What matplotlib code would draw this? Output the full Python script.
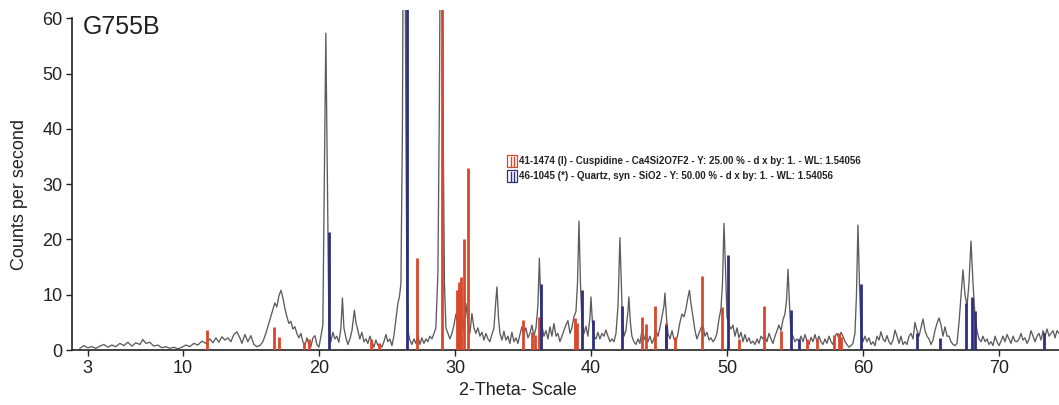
import matplotlib
matplotlib.use("Agg")
import matplotlib.pyplot as plt
from matplotlib.patches import Rectangle
from matplotlib.lines import Line2D

plt.rcParams['font.family'] = ['Liberation Sans', 'DejaVu Sans']

# Measured diffraction pattern (2-theta in degrees, counts per second), split by range
trace_a = [(2.43,0.3),(2.72,0.8),(3.01,0.4),(3.31,0.6),(3.60,0.3),(3.90,0.7),(4.19,1.0),(4.49,0.5),
           (4.78,0.9),(5.07,0.6),(5.37,1.2),(5.66,0.8),(5.96,1.4),(6.25,0.7),(6.54,1.3),(6.84,1.0),
           (7.06,1.9),(7.28,1.2),(7.57,1.4),(7.87,0.7),(8.16,0.9),(8.46,0.4),(8.75,0.6),(9.04,0.3),
           (9.34,0.5),(9.63,0.2),(9.93,0.5),(10.22,0.9),(10.51,0.6),(10.81,1.2),(11.10,0.9),(11.40,1.6),
           (11.69,1.2),(11.99,2.0),(12.21,1.3),(12.43,2.2),(12.65,1.4),(12.87,2.4),(13.09,1.8),(13.31,2.2),
           (13.53,1.5),(13.75,2.8),(13.97,3.3),(14.19,2.2),(14.34,1.2),(14.56,2.8),(14.78,1.5),(15.00,2.6),
           (15.22,1.0),(15.44,0.6),(15.66,0.8),(15.88,1.5)]
trace_b = [(16.10,3.0),(16.40,5.5),(16.62,7.3),(16.76,8.5),(16.91,7.8),(17.06,9.8),(17.21,10.8),(17.35,9.5),
           (17.50,7.5),(17.65,6.0),(17.79,4.8),(17.94,5.2),(18.09,3.8),(18.24,4.2),(18.38,3.0),(18.53,2.2),
           (18.68,3.0),(18.82,1.5),(18.97,0.8),(19.12,2.2),(19.26,1.0),(19.41,0.6),(19.56,2.2),(19.71,2.6),
           (19.85,1.0),(20.00,0.5),(20.15,2.5),(20.29,4.5),(20.40,30.0),(20.51,57.3),(20.63,30.0),(20.74,4.0),
           (20.88,1.5),(21.03,3.2),(21.18,2.0),(21.32,2.5),(21.47,1.4),(21.62,4.0),(21.73,9.4),(21.84,4.0),
           (21.99,2.2),(22.13,1.0),(22.28,2.0),(22.43,3.5),(22.61,7.2),(22.72,5.0),(22.87,3.5),(23.01,2.0),
           (23.16,3.2),(23.31,1.5),(23.46,2.0),(23.60,1.2),(23.75,2.5),(23.90,1.5),(24.04,0.5),(24.19,1.8),
           (24.34,0.8),(24.49,1.0),(24.63,0.5),(24.78,1.5),(24.93,2.8),(25.07,1.5),(25.22,2.0),(25.37,0.8),
           (25.51,2.5),(25.66,5.5),(25.81,8.5),(25.92,9.6),(26.03,12.0),(26.14,40.0),(26.21,80.0),(26.32,80.0),
           (26.40,40.0),(26.47,12.0),(26.58,3.0)]
trace_c = [(26.69,1.8),(26.84,1.0),(26.99,2.0),(27.13,1.2),(27.28,2.5),(27.43,1.0),(27.57,2.2),(27.72,1.2),
           (27.87,2.0),(28.01,1.5),(28.16,2.5),(28.31,2.0),(28.46,3.0),(28.60,4.0),(28.75,14.0),(28.86,45.0),
           (28.93,80.0),(29.04,80.0),(29.12,45.0),(29.23,12.0),(29.34,4.0),(29.49,3.0),(29.63,2.0),(29.78,3.0),
           (29.93,4.5),(30.07,6.5),(30.22,4.5),(30.37,5.5),(30.51,6.5),(30.66,3.5),(30.81,8.4),(30.96,5.0),
           (31.10,3.0),(31.25,6.6),(31.40,4.0),(31.54,3.0),(31.69,4.0),(31.84,2.5),(31.99,3.2),(32.13,1.8),
           (32.28,3.0),(32.43,2.0),(32.57,1.5),(32.72,2.8),(32.87,4.0),(33.01,9.0),(33.09,11.4),(33.20,6.0),
           (33.31,3.0),(33.46,1.8),(33.60,3.4),(33.75,1.8),(33.90,2.5),(34.04,1.2),(34.19,3.2),(34.34,1.5),
           (34.49,2.2),(34.63,1.2),(34.78,2.8),(34.93,4.2),(35.07,3.0),(35.22,4.0),(35.37,2.2),(35.51,3.0),
           (35.66,4.5),(35.81,2.5),(35.96,4.0),(36.10,8.0),(36.21,16.6),(36.32,8.0),(36.43,4.0)]
trace_d = [(36.54,2.5),(36.69,3.5),(36.84,2.0),(36.99,4.2),(37.13,2.5),(37.28,4.8),(37.43,2.5),(37.57,3.0),
           (37.72,1.5),(37.87,2.5),(38.01,3.5),(38.16,4.5),(38.31,5.3),(38.46,3.0),(38.60,4.0),(38.75,6.0),
           (38.90,7.0),(39.01,12.0),(39.12,23.3),(39.23,12.0),(39.34,5.0),(39.49,3.0),(39.63,4.3),(39.78,2.5),
           (39.93,6.0),(40.00,9.6),(40.11,5.0),(40.22,2.5),(40.37,2.0),(40.51,3.2),(40.66,2.0),(40.81,3.0),
           (40.96,2.5),(41.10,3.6),(41.25,2.5),(41.40,1.5),(41.54,2.0),(41.69,1.5),(41.84,3.0),(41.99,8.0),
           (42.06,14.0),(42.13,20.3),(42.21,14.0),(42.32,5.0),(42.43,2.5),(42.57,3.5),(42.72,7.0),(42.79,9.6),
           (42.90,5.0),(43.01,2.5),(43.16,1.5),(43.31,1.0),(43.46,2.0),(43.60,1.2),(43.75,3.5),(43.90,1.8),
           (44.04,3.0),(44.19,1.5),(44.34,2.5),(44.49,1.2),(44.63,2.0),(44.78,3.5),(44.93,2.5),(45.07,4.0),
           (45.22,6.0),(45.37,8.0),(45.44,10.3),(45.55,6.0),(45.66,3.0),(45.81,2.0),(45.96,3.5),(46.10,2.0),
           (46.25,1.5),(46.40,3.0),(46.54,5.0),(46.69,6.5),(46.84,6.0),(46.99,7.5),(47.13,9.5),(47.24,10.8),
           (47.35,8.5),(47.50,6.0),(47.65,3.5),(47.79,2.0),(47.94,3.0),(48.09,4.0),(48.24,4.5),(48.38,2.5),
           (48.53,3.2),(48.68,1.8),(48.82,2.2),(48.97,1.5),(49.12,2.0),(49.26,3.0),(49.41,5.5),(49.56,7.5),
           (49.67,12.0),(49.78,22.9),(49.89,15.0),(50.00,6.0)]
trace_e = [(50.15,4.5),(50.29,3.8),(50.44,4.5),(50.59,2.5),(50.74,4.0),(50.88,2.2),(51.03,3.2),(51.18,1.5),
           (51.32,2.8),(51.47,1.5),(51.62,2.2),(51.76,1.2),(51.91,1.6),(52.06,1.0),(52.21,2.0),(52.35,1.2),
           (52.50,2.5),(52.65,2.0),(52.79,2.5),(52.94,1.5),(53.09,3.0),(53.24,2.0),(53.38,1.2),(53.53,2.5),
           (53.68,3.5),(53.82,4.5),(53.97,3.5),(54.12,5.5),(54.26,6.5),(54.38,9.0),(54.49,14.6),(54.60,8.0),
           (54.71,3.0),(54.85,2.5),(55.00,1.5),(55.15,2.0),(55.29,1.5),(55.44,2.5),(55.59,1.5),(55.74,2.8),
           (55.88,1.6),(56.03,1.0),(56.18,2.3),(56.32,1.5),(56.47,2.8),(56.62,1.5),(56.76,2.5),(56.91,1.5),
           (57.06,1.0),(57.21,2.0),(57.35,1.2),(57.50,2.5),(57.65,1.5),(57.79,1.0),(57.94,2.5),(58.09,3.0),
           (58.24,2.0),(58.38,3.2),(58.53,2.5),(58.68,1.5),(58.82,1.0),(58.97,0.5),(59.12,0.8),(59.26,1.2),
           (59.41,3.0),(59.52,10.0),(59.63,22.6),(59.74,12.0),(59.85,4.0),(60.00,1.5),(60.15,2.5),(60.29,1.5),
           (60.44,2.2),(60.59,1.0),(60.74,1.5),(60.88,0.8),(61.03,2.5),(61.18,1.8),(61.32,3.3),(61.47,2.0),
           (61.62,1.5),(61.76,2.6),(61.91,1.5)]
trace_f = [(62.06,1.0),(62.21,1.8),(62.35,3.6),(62.50,2.5),(62.65,1.2),(62.79,2.5),(62.94,1.0),(63.09,1.5),
           (63.24,1.0),(63.38,2.5),(63.53,3.0),(63.68,2.0),(63.82,5.0),(63.97,3.5),(64.12,2.5),(64.26,4.0),
           (64.41,5.6),(64.56,3.5),(64.71,2.5),(64.85,2.0),(65.00,1.0),(65.15,1.8),(65.29,3.5),(65.44,4.8),
           (65.59,5.8),(65.74,4.5),(65.88,2.5),(66.03,4.2),(66.18,2.5),(66.32,2.5),(66.47,1.5),(66.62,1.0),
           (66.76,0.8),(66.91,1.2),(67.06,5.0),(67.21,10.0),(67.35,14.5),(67.50,10.0),(67.65,8.0),(67.79,12.0),
           (67.94,19.7),(68.09,12.0),(68.24,6.0),(68.38,3.5),(68.53,2.0),(68.68,1.5),(68.82,2.5),(68.97,1.5),
           (69.12,2.0),(69.26,1.0),(69.41,1.5),(69.56,0.8),(69.71,2.5),(69.85,1.5),(70.00,0.8),(70.15,1.6),
           (70.29,2.5),(70.44,1.5),(70.59,2.8),(70.74,2.0),(70.88,1.2),(71.03,2.5),(71.18,1.6),(71.32,1.5),
           (71.47,2.0),(71.62,3.0),(71.76,1.8),(71.91,2.2),(72.06,1.2),(72.21,2.0),(72.35,3.5),(72.50,2.5),
           (72.65,1.5),(72.79,2.5),(72.94,3.0),(73.09,1.8),(73.24,3.5),(73.38,2.5),(73.53,3.8),(73.68,2.5),
           (73.82,3.0),(73.97,3.5),(74.12,2.2),(74.26,3.5),(74.41,3.0)]

# Reference stick patterns (position, scaled intensity)
cuspidine_pos = [11.76, 16.67, 17.04, 18.90, 19.25, 23.80, 24.40, 27.20, 29.04, 30.15, 30.29, 30.44,
                 30.66, 30.96, 35.00, 35.70, 35.90, 36.20, 38.80, 39.00, 43.75, 44.04, 44.70, 45.50,
                 46.20, 48.16, 49.63, 50.90, 52.72, 53.97, 55.90, 56.60, 57.90, 58.20, 58.40]
cuspidine_int = [3.6, 4.1, 2.3, 1.4, 2.0, 2.0, 1.2, 16.6, 100.0, 10.8, 12.3, 13.2,
                 20.0, 33.0, 5.4, 3.3, 2.7, 6.0, 5.8, 4.9, 6.0, 4.7, 8.0, 4.9,
                 2.4, 13.4, 7.8, 2.0, 8.0, 3.5, 2.0, 2.0, 2.8, 3.0, 2.3]
quartz_pos = [20.74, 26.47, 36.32, 39.34, 40.15, 42.28, 45.51, 50.07, 54.71, 55.29, 59.85,
              63.97, 65.66, 67.55, 67.98, 68.20, 73.34]
quartz_int = [21.3, 100.0, 12.0, 10.8, 5.4, 8.0, 4.5, 17.2, 7.2, 2.0, 12.0,
              3.1, 2.2, 8.5, 9.5, 7.0, 3.0]

legend_labels = ["41-1474 (I) - Cuspidine - Ca4Si2O7F2 - Y: 25.00 % - d x by: 1. - WL: 1.54056",
                 "46-1045 (*) - Quartz, syn - SiO2 - Y: 50.00 % - d x by: 1. - WL: 1.54056"]
x_ticks = [3, 10, 20, 30, 40, 50, 60, 70]
y_ticks = [0, 10, 20, 30, 40, 50, 60]

trace = trace_a + trace_b + trace_c + trace_d + trace_e + trace_f
tt = [p[0] for p in trace]
cps = [p[1] for p in trace]

red = '#d9472c'
blue = '#2e2f7c'
grey = '#5c5c5c'
ink = '#222222'

fig = plt.figure(figsize=(10.59, 4.05), dpi=100)
ax = fig.add_axes([0.068, 0.1358, 0.932, 0.8395])

ax.plot(tt, cps, color=grey, lw=0.95, zorder=2)
ax.vlines(cuspidine_pos, 0, cuspidine_int, color=red, lw=2.0, zorder=3)
ax.vlines(quartz_pos, 0, quartz_int, color=blue, lw=2.0, zorder=4)

ax.set_xlim(1.85, 74.41)
ax.set_ylim(0, 61.5)
ax.set_xticks(x_ticks)
ax.set_yticks(y_ticks)
ax.tick_params(axis='both', direction='out', length=4, width=1.0, color=ink,
               labelsize=13, labelcolor=ink, pad=3)
for side in ('top', 'right'):
    ax.spines[side].set_visible(False)
for side in ('left', 'bottom'):
    ax.spines[side].set_color(ink)
    ax.spines[side].set_linewidth(1.2)
ax.spines['left'].set_bounds(0, 60)

ax.text(-0.0527, 0.456, 'Counts per second', transform=ax.transAxes, rotation=90,
        ha='center', va='center', fontsize=13, color=ink)
ax.text(0.452, -0.118, '2-Theta- Scale', transform=ax.transAxes,
        ha='center', va='center', fontsize=13, color=ink)
ax.text(0.011, 0.95, 'G755B', transform=ax.transAxes, ha='left', va='center',
        fontsize=18, color=ink)

# Phase key: small outlined boxes holding a stick glyph, followed by the card text
for (ybox, col, label) in [(0.538, red, legend_labels[0]), (0.494, blue, legend_labels[1])]:
    ax.add_patch(Rectangle((0.441, ybox), 0.010, 0.035, transform=ax.transAxes,
                           facecolor='white', edgecolor=col, lw=0.9, zorder=5))
    for xs in (0.4445, 0.4475):
        ax.add_line(Line2D([xs, xs], [ybox + 0.004, ybox + 0.031], transform=ax.transAxes,
                           color=col, lw=1.0, zorder=6))
    ax.text(0.453, ybox + 0.018, label, transform=ax.transAxes, ha='left', va='center',
            fontsize=7.0, color=ink, fontweight='semibold', zorder=6)

fig.savefig('out.png', dpi=100, facecolor='white')
